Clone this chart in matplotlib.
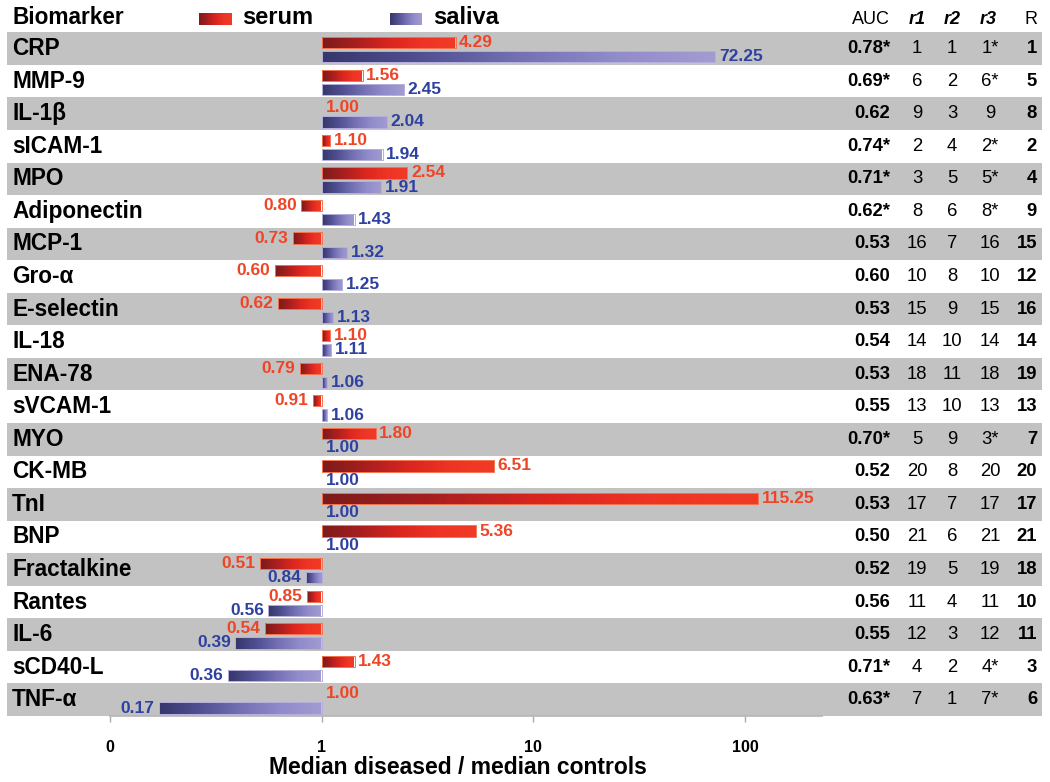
import numpy as np
import matplotlib
matplotlib.use('Agg')
import matplotlib.pyplot as plt
from matplotlib.colors import LinearSegmentedColormap
from matplotlib import transforms
from matplotlib.ticker import NullLocator

# ---------------- data ----------------
biomarkers = ['CRP', 'MMP-9', 'IL-1β', 'sICAM-1', 'MPO', 'Adiponectin', 'MCP-1',
              'Gro-α', 'E-selectin', 'IL-18', 'ENA-78', 'sVCAM-1', 'MYO', 'CK-MB',
              'TnI', 'BNP', 'Fractalkine', 'Rantes', 'IL-6', 'sCD40-L', 'TNF-α']
serum = [4.29, 1.56, 1.00, 1.10, 2.54, 0.80, 0.73, 0.60, 0.62, 1.10, 0.79, 0.91,
         1.80, 6.51, 115.25, 5.36, 0.51, 0.85, 0.54, 1.43, 1.00]
saliva = [72.25, 2.45, 2.04, 1.94, 1.91, 1.43, 1.32, 1.25, 1.13, 1.11, 1.06, 1.06,
          1.00, 1.00, 1.00, 1.00, 0.84, 0.56, 0.39, 0.36, 0.17]
auc = ['0.78*', '0.69*', '0.62', '0.74*', '0.71*', '0.62*', '0.53', '0.60', '0.53',
       '0.54', '0.53', '0.55', '0.70*', '0.52', '0.53', '0.50', '0.52', '0.56',
       '0.55', '0.71*', '0.63*']
r1 = ['1', '6', '9', '2', '3', '8', '16', '10', '15', '14', '18', '13', '5', '20',
      '17', '21', '19', '11', '12', '4', '7']
r2 = ['1', '2', '3', '4', '5', '6', '7', '8', '9', '10', '11', '10', '9', '8', '7',
      '6', '5', '4', '3', '2', '1']
r3 = ['1*', '6*', '9', '2*', '5*', '8*', '16', '10', '15', '14', '18', '13', '3*',
      '20', '17', '21', '19', '11', '12', '4*', '7*']
rank = ['1', '5', '8', '2', '4', '9', '15', '12', '16', '14', '19', '13', '7', '20',
        '17', '21', '18', '10', '11', '3', '6']
xticks = [0.1, 1, 10, 100]
xticklabels = ['0', '1', '10', '100']
series_names = ['serum', 'saliva']
table_headers = ['AUC', 'r1', 'r2', 'r3', 'R']

# ---------------- style ----------------
SANS = ['Liberation Sans', 'DejaVu Sans']
NARROW = ['Liberation Sans Narrow', 'Liberation Sans', 'DejaVu Sans']
RED_TXT = '#ef4526'
BLUE_TXT = '#2f41a0'
BAND = '#c2c2c2'
serum_cmap = LinearSegmentedColormap.from_list(
    'serum', ['#7c1b1b', '#a81f1f', '#d9261f', '#ee3424', '#f03c26'])
saliva_cmap = LinearSegmentedColormap.from_list(
    'saliva', ['#37376c', '#505092', '#7470b4', '#918cca', '#a29cd2'])

W, H = 1050, 782
fig = plt.figure(figsize=(W / 100, H / 100), dpi=100)


def fx(px):
    return px / W


def fy(py):
    return 1 - py / H


AX_L, AX_R, AX_T, AX_B = 110, 822, 32.3, 716
ax = fig.add_axes([fx(AX_L), fy(AX_B), fx(AX_R) - fx(AX_L), fy(AX_T) - fy(AX_B)])
ax.set_xscale('log')
n = len(biomarkers)
ax.set_xlim(0.1, 230.7)
ax.set_ylim(n - 0.5, -0.5)

# alternating bands spanning the label column, bars and table
for i in range(0, n, 2):
    ax.axhspan(i - 0.5, i + 0.5, xmin=-0.145, xmax=1.3086, color=BAND,
               zorder=0, clip_on=False, lw=0)

BAR_H = 0.345
S_OFF = -0.18
V_OFF = 0.255
NCOL = 4096


def grad_bar(y, v, cmap, edge):
    lw = 0.7 if v != 1 else 0
    bars = ax.barh(y, v - 1, left=1, height=BAR_H, color='none',
                   edgecolor=edge, lw=lw, zorder=3)
    if v == 1:
        return
    p = bars.patches[0]
    x0, x1 = min(1, v), max(1, v)
    xs = np.linspace(x0, x1, NCOL)
    t = (np.log10(xs) - np.log10(x0)) / (np.log10(x1) - np.log10(x0))
    im = ax.imshow(t.reshape(1, -1), cmap=cmap, vmin=0, vmax=1,
                   extent=[x0, x1, y + BAR_H / 2, y - BAR_H / 2],
                   aspect='auto', interpolation='bilinear', zorder=2)
    im.set_clip_path(p)


off_r = transforms.offset_copy(ax.transData, fig=fig, x=3.5, y=0, units='dots')
off_r1 = transforms.offset_copy(ax.transData, fig=fig, x=4.5, y=0, units='dots')
off_l = transforms.offset_copy(ax.transData, fig=fig, x=-4.5, y=0, units='dots')


def value_label(y, v, color):
    s = f'{v:.2f}'
    if v > 1:
        tr, ha = off_r, 'left'
    elif v < 1:
        tr, ha = off_l, 'right'
    else:
        tr, ha = off_r1, 'left'
    ax.text(v, y, s, transform=tr, ha=ha, va='center', color=color,
            fontsize=12.5, fontweight='bold', family=NARROW, zorder=5)


for i in range(n):
    ys = i + S_OFF
    yv = i + V_OFF
    grad_bar(ys, serum[i], serum_cmap, '#f4724f')
    grad_bar(yv, saliva[i], saliva_cmap, '#b4b0dc')
    value_label(ys, serum[i], RED_TXT)
    value_label(yv, saliva[i], BLUE_TXT)

# row labels and table, x in figure fraction, y in data
bt = transforms.blended_transform_factory(fig.transFigure, ax.transData)
for i in range(n):
    ax.text(fx(12), i, biomarkers[i], transform=bt, ha='left', va='center',
            fontsize=16.3, fontweight='bold', family=SANS, clip_on=False)
    ax.text(fx(890), i, auc[i], transform=bt, ha='right', va='center',
            fontsize=13.3, fontweight='bold', family=SANS, clip_on=False)
    ax.text(fx(917), i, r1[i], transform=bt, ha='center', va='center',
            fontsize=13.3, family=SANS, clip_on=False)
    ax.text(fx(952), i, r2[i], transform=bt, ha='center', va='center',
            fontsize=13.3, family=SANS, clip_on=False)
    ax.text(fx(990), i, r3[i], transform=bt, ha='center', va='center',
            fontsize=13.3, family=SANS, clip_on=False)
    ax.text(fx(1037), i, rank[i], transform=bt, ha='right', va='center',
            fontsize=13.3, fontweight='bold', family=SANS, clip_on=False)

# header row
fig.text(fx(12), fy(18), 'Biomarker', ha='left', va='center', fontsize=16.3,
         fontweight='bold', family=SANS)
fig.text(fx(890), fy(20), table_headers[0], ha='right', va='center', fontsize=13,
         family=SANS)
fig.text(fx(917), fy(20), table_headers[1], ha='center', va='center', fontsize=13,
         fontweight='bold', style='italic', family=SANS)
fig.text(fx(952), fy(20), table_headers[2], ha='center', va='center', fontsize=13,
         fontweight='bold', style='italic', family=SANS)
fig.text(fx(988), fy(20), table_headers[3], ha='center', va='center', fontsize=13,
         fontweight='bold', style='italic', family=SANS)
fig.text(fx(1037), fy(20), table_headers[4], ha='right', va='center', fontsize=13,
         family=SANS)

# legend swatches with gradients
gl = np.linspace(0, 1, 256).reshape(1, -1)
for (x0, x1, tx), cmap, name in zip([(199, 232, 242), (390, 422, 433)],
                                     [serum_cmap, saliva_cmap], series_names):
    lax = fig.add_axes([fx(x0), fy(25), fx(x1) - fx(x0), fy(12.7) - fy(25)])
    lax.imshow(gl, cmap=cmap, aspect='auto', interpolation='bilinear')
    lax.set_axis_off()
    fig.text(fx(tx), fy(17), name, ha='left', va='center', fontsize=17,
             fontweight='bold', family=SANS)

# axis styling
for s in ['left', 'top', 'right']:
    ax.spines[s].set_visible(False)
ax.spines['bottom'].set_color('#b5b5b5')
ax.spines['bottom'].set_linewidth(1.2)
ax.set_yticks([])
ax.set_xticks(xticks)
ax.set_xticklabels(xticklabels, family=NARROW, fontweight='bold', fontsize=11.5)
ax.xaxis.set_minor_locator(NullLocator())
ax.tick_params(axis='x', length=4.5, width=1, color='#aaaaaa', pad=13)
fig.text(fx(458), fy(767), 'Median diseased / median controls', ha='center',
         va='center', fontsize=16.5, fontweight='bold', family=SANS)

fig.savefig('out.png', dpi=100)
